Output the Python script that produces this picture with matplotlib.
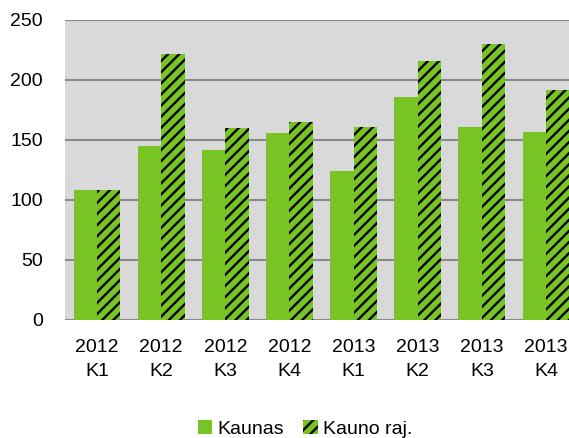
import matplotlib
matplotlib.use("Agg")
import matplotlib.pyplot as plt
import numpy as np
from matplotlib.patches import Patch

plt.rcParams["font.family"] = ["Liberation Sans", "DejaVu Sans"]
plt.rcParams["hatch.linewidth"] = 1.7
plt.rcParams["hatch.color"] = "black"

# data
categories = ["2012\nK1", "2012\nK2", "2012\nK3", "2012\nK4",
              "2013\nK1", "2013\nK2", "2013\nK3", "2013\nK4"]
kaunas = [108, 145, 142, 156, 124, 186, 161, 157]
kauno_raj = [108, 222, 160, 165, 161, 216, 230, 192]
yticks = [0, 50, 100, 150, 200, 250]

green = "#77C424"
fs = 14

fig = plt.figure(figsize=(5.69, 4.38), dpi=100)
ax = fig.add_axes([65 / 569, 1 - 320 / 438, 513 / 569, 300 / 438])
ax.set_facecolor("#D9D9D9")

x = np.arange(len(categories))
w = 0.364
ax.bar(x - w / 2, kaunas, w, color=green, linewidth=0)
ax.bar(x + w / 2, kauno_raj, w, color=green, hatch="///", edgecolor="black", linewidth=0)

ax.set_xlim(-0.5, len(categories) - 0.5)
ax.set_ylim(0, 250)
ax.set_yticks(yticks)
ax.set_xticks(x)
ax.set_xticklabels(categories, fontsize=fs, linespacing=1.5)
ax.tick_params(axis="y", labelsize=fs, length=0, pad=16)
ax.tick_params(axis="x", length=0, pad=14)
ax.set_axisbelow(True)
ax.yaxis.grid(True, color="#8A8A8A", linewidth=1.5)
for s in ax.spines.values():
    s.set_visible(False)

handles = [Patch(facecolor=green, linewidth=0, label="Kaunas"),
           Patch(facecolor=green, hatch="///", edgecolor="black", linewidth=0, label="Kauno raj.")]
fig.legend(handles=handles, loc="center", bbox_to_anchor=(305 / 569, 1 - 429 / 438),
           ncol=2, frameon=False, fontsize=fs, handlelength=0.75, handleheight=0.75,
           handletextpad=0.25, columnspacing=1.0, borderpad=0)

fig.savefig("out.png", dpi=100)
